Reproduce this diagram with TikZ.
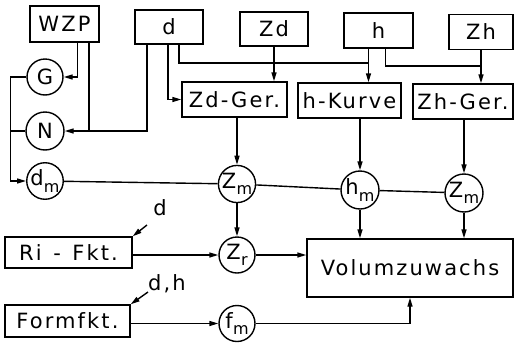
\documentclass[tikz,border=0pt]{standalone}
\usepackage{fontspec}
\setmainfont{DejaVu Sans}
\newfontfamily\lsf{DejaVu Sans}[LetterSpace=10]
\usetikzlibrary{arrows.meta}
\newcommand{\subm}[2]{#1\kern0.2pt\raisebox{-0.3em}{\fontsize{16}{16}\selectfont #2}}
\begin{document}
\begin{tikzpicture}[x=1pt,y=-1pt,
  box/.style={draw, line width=1.4pt, inner sep=0pt, font=\lsf\fontsize{21}{22}\selectfont},
  circ/.style={draw, circle, line width=1.4pt, minimum size=36pt, inner sep=0pt, font=\fontsize{21}{22}\selectfont},
  conn/.style={line width=1.4pt},
  arr/.style={conn, -{Triangle[length=9pt,width=5pt]}},
  lab/.style={inner sep=0pt, font=\lsf\fontsize{21}{22}\selectfont}]
\useasboundingbox (0,0) rectangle (515,346);
% top row boxes
\node[box, minimum width=69pt, minimum height=36pt] (WZP) at (64.5,24) {WZP};
\node[box, minimum width=68pt, minimum height=34pt] (d) at (169,27) {d};
\node[box, minimum width=68pt, minimum height=34pt] (Zd) at (274,29) {Zd};
\node[box, minimum width=69pt, minimum height=35pt] (h) at (378.5,30.5) {h};
\node[box, minimum width=64pt, minimum height=35pt] (Zh) at (481,32) {Zh};
% second row
\node[box, minimum width=105pt, minimum height=35pt] (ZdGer) at (234.5,99.5) {Zd-Ger.};
\node[box, minimum width=103pt, minimum height=35pt] (hKurve) at (349.5,100.5) {h-Kurve};
\node[box, minimum width=100pt, minimum height=35pt] (ZhGer) at (463,101.5) {Zh-Ger.};
% lower boxes
\node[box, minimum width=127pt, minimum height=31pt] (RiFkt) at (68.5,252.5) {Ri\hspace{0.55em}-\hspace{0.55em}Fkt\hspace{0.1em}.};
\node[box, minimum width=125pt, minimum height=32pt] (Formfkt) at (67.5,321) {Formfkt.};
\node[box, minimum width=206pt, minimum height=58pt] (Vol) at (410,268) {Volumzuwachs};
% circles
\node[circ] (G) at (45,77) {G};
\node[circ, minimum size=38pt] (N) at (45,131) {N};
\node[circ] (dm) at (45,181) {\subm{d}{m}};
\node[circ] (Zm1) at (237,184) {\subm{Z}{m}};
\node[circ, minimum size=38pt] (hm) at (360,190) {\subm{h}{m}};
\node[circ, minimum size=38pt] (Zm2) at (464,193) {\subm{Z}{m}};
\node[circ] (Zr) at (237,255) {\subm{Z}{r}};
\node[circ] (fm) at (237,323.5) {\subm{f}{m}};
% labels
\node[lab] (dlab) at (160,208) {d};
\node[lab] (dhlab) at (167,284) {d,h};
\coordinate (dtail) at (147,225);
\coordinate (dhtail) at (148,292);
\coordinate (y63) at (0,63);
\coordinate (y66) at (0,66);
% connections top-left
\draw[arr] ([xshift=13]WZP.south) |- (G.east);
\draw[conn] ([xshift=24.5]WZP.south) -- ([xshift=24.5]WZP.south |- N.east);
\draw[arr] ([xshift=-22]d.south) |- (N.east);
\draw[conn] (G.west) -- ++(-16,0) coordinate (busT);
\draw[conn] (N.west) -- (N.west -| busT);
\draw[arr] (busT) |- (dm.west);
% d to second row
\draw[arr] ([xshift=-1]d.south) |- (ZdGer.west);
\draw[conn] ([xshift=10]d.south) |- ([xshift=-10]h.south |- y63);
\draw[arr] ([xshift=-10]h.south) -- ([xshift=-10]h.south |- hKurve.north);
\draw[conn] ([xshift=7]h.south) |- (Zh.south |- y66);
\draw[arr] (Zh.south) -- (Zh.south |- ZhGer.north);
\draw[arr] (Zd.south) -- (Zd.south |- ZdGer.north);
% second row to circles
\draw[arr] (ZdGer.south -| Zm1) -- (Zm1);
\draw[arr] (hKurve.south -| hm) -- (hm);
\draw[arr] (ZhGer.south -| Zm2) -- (Zm2);
% horizontal chain
\draw[conn] (dm) -- (Zm1);
\draw[conn] (Zm1) -- (hm);
\draw[conn] (hm) -- (Zm2);
% to bottom
\draw[arr] (Zm1) -- (Zr);
\draw[arr] (hm) -- (hm |- Vol.north);
\draw[arr] (Zm2) -- (Zm2 |- Vol.north);
\draw[arr] (RiFkt.east |- Zr.west) -- (Zr.west);
\draw[arr] (Zr.east) -- (Zr.east -| Vol.west);
\draw[arr] (Formfkt.east |- fm.west) -- (fm.west);
\draw[arr] (fm.east) -| (Vol.south);
% label arrows
\draw[arr] (dtail) -- (RiFkt.north east);
\draw[arr] (dhtail) -- (Formfkt.north east);
\end{tikzpicture}
\end{document}
